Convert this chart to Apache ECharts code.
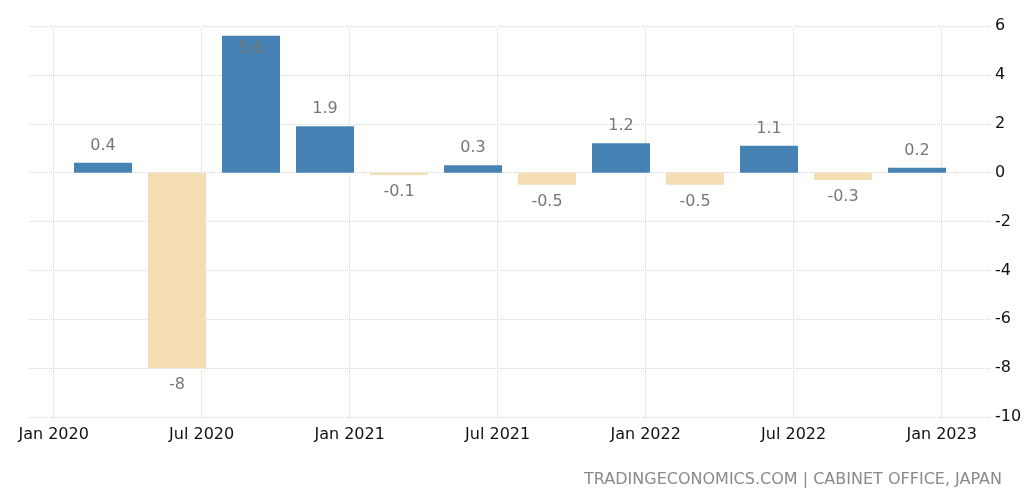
<!DOCTYPE html>
<html>
<head>
<meta charset="utf-8">
<script src="https://cdn.jsdelivr.net/npm/echarts@6/dist/echarts.min.js"></script>
<style>
  html, body { margin: 0; padding: 0; background: #fff; }
  #chart { width: 1036px; height: 501px; }
</style>
</head>
<body>
<div id="chart"></div>
<script>
// Quarter periods (year-month of quarter end) and GDP growth QoQ values
const quarters = ['2020-03', '2020-06', '2020-09', '2020-12', '2021-03', '2021-06',
                  '2021-09', '2021-12', '2022-03', '2022-06', '2022-09', '2022-12'];
const values = [0.4, -8, 5.6, 1.9, -0.1, 0.3, -0.5, 1.2, -0.5, 1.1, -0.3, 0.2];
// X tick labels, every six months from Jan 2020
const tickLabels = ['Jan 2020', 'Jul 2020', 'Jan 2021', 'Jul 2021', 'Jan 2022', 'Jul 2022', 'Jan 2023'];
const yTicks = [-10, -8, -6, -4, -2, 0, 2, 4, 6];

const FONT = 'DejaVu Sans';
const POS = '#4682B4';
const NEG = '#F5DEB3';
const Y_MAX = 6, Y_MIN = -10;

// months since Jan 2020 (bar drawn at start of the quarter's last month)
function monthOffset(s) {
  const [y, m] = s.split('-').map(Number);
  return (y - 2020) * 12 + (m - 1);
}
const tickMonths = tickLabels.map((t, i) => i * 6);

const barData = quarters.map((q, i) => {
  const v = values[i];
  const inside = v > Y_MAX - 1;
  return {
    value: [monthOffset(q), v],
    itemStyle: { color: v >= 0 ? POS : NEG },
    label: {
      position: v < 0 ? 'bottom' : (inside ? 'insideTop' : 'top'),
      distance: inside ? 5 : 9
    }
  };
});

const chart = echarts.init(document.getElementById('chart'));
chart.setOption({
  animation: false,
  backgroundColor: '#fff',
  title: {
    text: 'TRADINGECONOMICS.COM | CABINET OFFICE, JAPAN',
    right: 34,
    top: 472,
    padding: 0,
    textStyle: { fontFamily: FONT, fontSize: 16, fontWeight: 'normal', color: '#8a8a8a' }
  },
  grid: { left: 29, right: 45, top: 26, bottom: 84 },
  xAxis: {
    type: 'value',
    min: -1,
    max: 38,
    interval: 1,
    axisLine: { show: false },
    axisTick: { show: false },
    splitLine: { show: false },
    axisLabel: {
      margin: 10,
      fontFamily: FONT,
      fontSize: 16,
      color: '#111',
      showMinLabel: true,
      showMaxLabel: true,
      formatter: function (v) {
        const i = tickMonths.indexOf(v);
        return i >= 0 ? tickLabels[i] : '';
      }
    }
  },
  yAxis: {
    type: 'value',
    position: 'right',
    min: Y_MIN,
    max: Y_MAX,
    interval: 2,
    axisLine: { show: false },
    axisTick: { show: false },
    splitLine: { show: true, lineStyle: { type: 'dotted', color: '#d6d6d6', width: 1 } },
    axisLabel: {
      margin: 4,
      fontFamily: FONT,
      fontSize: 16,
      color: '#111',
      formatter: v => yTicks.includes(v) ? String(v) : ''
    }
  },
  series: [
    {
      type: 'line',
      data: [],
      z: 0,
      silent: true,
      markLine: {
        z: 0,
        silent: true,
        symbol: 'none',
        label: { show: false },
        lineStyle: { type: 'dotted', color: '#d6d6d6', width: 1 },
        data: tickMonths.map(m => ({ xAxis: m }))
      }
    },
    {
      type: 'bar',
      z: 3,
      barWidth: 58,
      data: barData,
      label: {
        show: true,
        fontFamily: FONT,
        fontSize: 16,
        color: '#777',
        formatter: p => String(p.value[1])
      }
    }
  ]
});
</script>
</body>
</html>
